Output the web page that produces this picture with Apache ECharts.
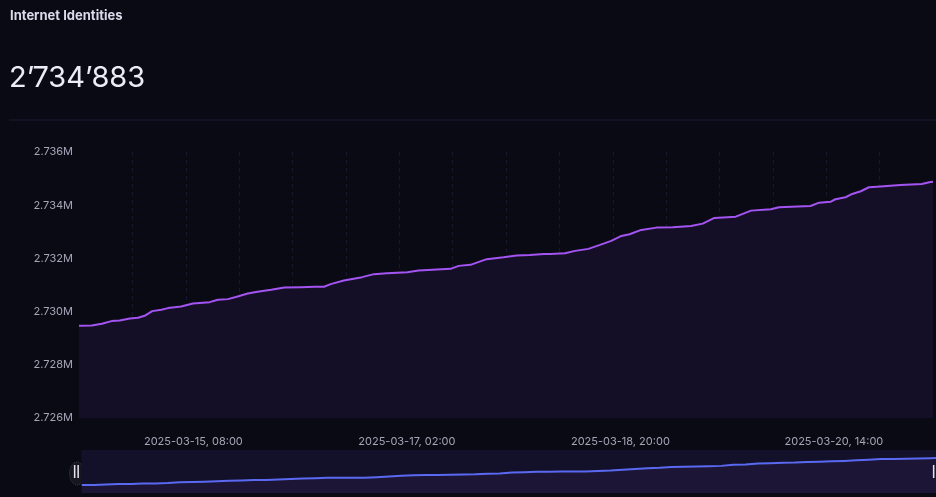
<!DOCTYPE html>
<html>
<head>
<meta charset="utf-8">
<script src="https://cdn.jsdelivr.net/npm/echarts@6/dist/echarts.min.js"></script>
<style>
  html, body { margin: 0; padding: 0; background: #0a0a14; }
  #chart { width: 936px; height: 497px; }
</style>
</head>
<body>
<div id="chart"></div>
<script>
// Hours since 2025-03-14 09:30 (range covers 168 h)
const hours = [0, 2.5, 4.5, 6.4, 8.0, 10.0, 11.6, 12.9, 14.4, 16.2, 17.5, 20.1, 22.4, 25.7, 27.3, 29.3,
  31.2, 33.2, 35.1, 37.8, 40.4, 43.7, 46.3, 48.2, 49.5, 52.1, 55.7, 58.0, 60.6, 64.6, 66.8, 70.4,
  73.1, 74.7, 77.0, 80.2, 83.5, 86.1, 88.7, 91.4, 92.7, 95.6, 97.6, 100.2, 102.5, 104.7, 106.7,
  108.3, 110.6, 113.6, 116.8, 120.4, 122.7, 125.0, 129.2, 132.2, 136.1, 137.7, 143.9, 145.6,
  147.9, 148.8, 150.8, 152.1, 153.8, 155.4, 157.0, 161.6, 165.8, 167.5, 168];
const identities = [2729466, 2729477, 2729541, 2729643, 2729665, 2729740, 2729767, 2729842, 2730018,
  2730067, 2730131, 2730191, 2730304, 2730356, 2730443, 2730469, 2730566, 2730679, 2730743, 2730818,
  2730904, 2730919, 2730931, 2730935, 2731032, 2731167, 2731295, 2731408, 2731446, 2731483, 2731543,
  2731580, 2731607, 2731719, 2731757, 2731971, 2732046, 2732106, 2732132, 2732165, 2732168, 2732196,
  2732283, 2732358, 2732508, 2732658, 2732846, 2732910, 2733071, 2733157, 2733172, 2733221, 2733308,
  2733522, 2733570, 2733796, 2733848, 2733923, 2733972, 2734096, 2734134, 2734224, 2734299, 2734423,
  2734524, 2734674, 2734697, 2734761, 2734798, 2734870, 2734883];
// Tick label positions (hours since start) and texts
const labelHours = [22.5, 64.5, 106.5, 148.5];
const labelTexts = ['2025-03-15, 08:00', '2025-03-17, 02:00', '2025-03-18, 20:00', '2025-03-20, 14:00'];
const yTicks = [2726000, 2728000, 2730000, 2732000, 2734000, 2736000];

const seriesData = hours.map((h, i) => [h, identities[i]]);
const latest = identities[identities.length - 1];
const latestText = String(latest).replace(/\B(?=(\d{3})+(?!\d))/g, '\u2019');

const chart = echarts.init(document.getElementById('chart'), null, { renderer: 'canvas' });
const font = 'Inter, "Noto Sans", sans-serif';

chart.setOption({
  backgroundColor: '#0a0a14',
  animation: false,
  title: [
    { text: 'Internet Identities', left: 10, top: 10, padding: 0,
      textStyle: { color: '#dcdaea', fontSize: 13, fontWeight: 'bold', fontFamily: font } },
    { text: latestText, left: 9, top: 64, padding: 0,
      textStyle: { color: '#eeebf8', fontSize: 29, fontWeight: 'normal', fontFamily: font } }
  ],
  graphic: [
    { type: 'rect', shape: { x: 9, y: 119.5, width: 927, height: 1 },
      style: { fill: '#1d1938' }, silent: true },
    { type: 'ellipse', z: 3, shape: { cx: 77, cy: 473.5, rx: 7.5, ry: 11.5 },
      style: { fill: '#17161f', stroke: '#3a3a4c', lineWidth: 1, lineDash: [1, 1] }, silent: true }
  ],
  grid: { left: 79, right: 0, top: 152, bottom: 79, containLabel: false },
  xAxis: [
    {
      type: 'value', min: 0, max: 168, interval: 1.5,
      axisLine: { show: false }, axisTick: { show: false },
      splitLine: { show: false },
      axisLabel: {
        color: '#a6a4b6', fontSize: 11, fontFamily: font, margin: 18,
        showMinLabel: true, showMaxLabel: true,
        formatter: function (v) {
          for (let i = 0; i < labelHours.length; i++) {
            if (Math.abs(v - labelHours[i]) < 0.01) return labelTexts[i];
          }
          return '';
        }
      }
    },
    {
      type: 'value', min: 0, max: 168, interval: 10.5, position: 'bottom',
      axisLine: { show: false }, axisTick: { show: false }, axisLabel: { show: false },
      splitLine: { show: true, showMinLine: false, showMaxLine: false,
        lineStyle: { color: '#191730', type: [4, 4], width: 1 } }
    }
  ],
  yAxis: {
    type: 'value', min: yTicks[0], max: yTicks[yTicks.length - 1], interval: 2000,
    axisLine: { show: false }, axisTick: { show: false },
    splitLine: { show: false },
    axisLabel: {
      color: '#a6a4b6', fontSize: 11, fontFamily: font, margin: 6,
      formatter: function (v) { return (v / 1e6).toFixed(3) + 'M'; }
    }
  },
  dataZoom: [{
    type: 'slider', xAxisIndex: 0, start: 0, end: 100,
    left: 79, right: -4, top: 450, height: 43,
    backgroundColor: '#13112a', borderColor: 'transparent', borderRadius: 0,
    fillerColor: 'rgba(0,0,0,0)',
    showDetail: false, brushSelect: false, moveHandleSize: 0,
    handleIcon: 'path://M0,0H1.4V12H0Z M3.2,0H4.6V12H3.2Z M15.8,6L15.8,6Z',
    handleSize: '40%',
    handleStyle: { color: '#e4e2ee', borderColor: 'transparent' },
    dataBackground: {
      lineStyle: { color: '#5a69f2', width: 2, opacity: 1 },
      areaStyle: { color: '#1c1536', opacity: 1 }
    },
    selectedDataBackground: {
      lineStyle: { color: '#5a69f2', width: 2, opacity: 1 },
      areaStyle: { color: '#1c1536', opacity: 1 }
    }
  }],
  series: [{
    type: 'line', xAxisIndex: 0, data: seriesData,
    showSymbol: false, smooth: false,
    lineStyle: { color: '#a454f2', width: 2 },
    itemStyle: { color: '#a454f2' },
    areaStyle: { color: '#140f27', opacity: 1 }
  }]
});
</script>
</body>
</html>
